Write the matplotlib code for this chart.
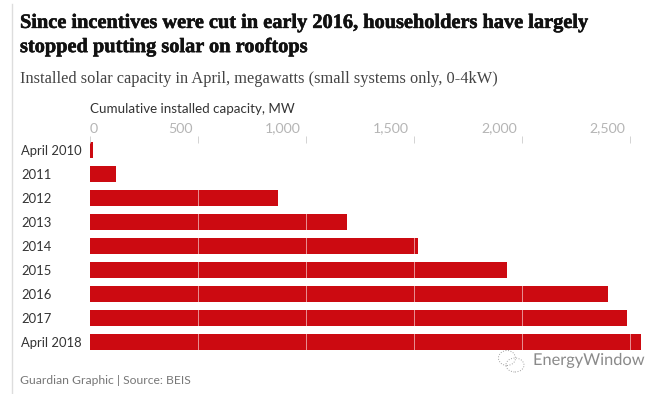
import matplotlib
matplotlib.use('Agg')
import matplotlib.pyplot as plt
import matplotlib.patheffects as pe
from matplotlib.lines import Line2D
from matplotlib.patches import Ellipse
from matplotlib.transforms import Bbox, ScaledTranslation

years = ['April 2010', '2011', '2012', '2013', '2014', '2015', '2016', '2017', 'April 2018']
capacity = [14, 120, 870, 1188, 1517, 1930, 2398, 2484, 2550]
ticks = [0, 500, 1000, 1500, 2000, 2500]
tick_labels = ['0', '500', '1,000', '1,500', '2,000', '2,500']

W, H = 650, 394

fig = plt.figure(figsize=(W/100, H/100), dpi=100)
ax = fig.add_axes([90/W, 1-354/H, 551/W, (354-136)/H])

ax.barh(range(len(years)), capacity, height=0.667, color='#cc0a11')

ax.set_xlim(0, 2551)
ax.set_ylim(8.5, -0.583)
ax.set_yticks(range(len(years)))
ax.set_yticklabels(years, fontsize=9.4, color='#333333', family='Lato', ha='left')
ax.tick_params(axis='y', length=0, pad=49.7)

ax.xaxis.tick_top()
ax.set_xticks(ticks)
ax.set_xticklabels(tick_labels, fontsize=10.2, color='#b5b5b5', family='Lato')
ax.tick_params(axis='x', direction='in', length=5, width=0.6, color='#cccccc', pad=1)
ax.set_axisbelow(False)
ax.grid(axis='x', color='white', lw=0.7, alpha=0.55)
for s in ax.spines.values():
    s.set_visible(False)

#tick labels sit left of their tick, 0 starts at it, 2,500 is cut at the right edge
clip = Bbox.from_extents(0, 0, 641, H)
for i, tick in enumerate(ax.xaxis.get_major_ticks()):
    lab = tick.label2
    if i > 0:
        lab.set_ha('right')
        lab.set_transform(lab.get_transform() + ScaledTranslation(-5/100, 0, fig.dpi_scale_trans))
    else:
        lab.set_ha('left')
        tick.gridline.set_visible(False)
    lab.set_clip_box(clip)
    lab.set_clip_on(True)

fig.add_artist(Line2D([11.5/W, 11.5/W], [0, 1-4/H], color='#dddddd', lw=1))

title = fig.text(20/W, 1-35/H, 'Since incentives were cut in early 2016, householders have largely\nstopped putting solar on rooftops',
         fontsize=14.65, fontweight='bold', family='Liberation Serif', va='center', color='#111111', linespacing=1.28)
title.set_path_effects([pe.withStroke(linewidth=0.4, foreground='#111111')])
fig.text(20/W, 1-79/H, 'Installed solar capacity in April, megawatts (small systems only, 0-4kW)',
         fontsize=11.8, family='Liberation Serif', va='center', color='#444444')
fig.text(90/W, 1-109/H, 'Cumulative installed capacity, MW', fontsize=9.6, family='Lato', va='center', color='#333333')
fig.text(20/W, 1-380/H, 'Guardian Graphic | Source: BEIS', fontsize=8.7, family='Lato', va='center', color='#777777')

#watermark
wm = fig.text(533/W, 1-361/H, 'EnergyWindow', fontsize=11.8, family='Lato', va='center', color='#8a8a8a')
wm.set_path_effects([pe.withStroke(linewidth=1.2, foreground='#ffffff')])
for cx, cy, w, h in [(507, 358, 17, 15), (515, 365, 18, 14)]:
    fig.add_artist(Ellipse((cx/W, 1-cy/H), w/W, h/H, transform=fig.transFigure, fill=False, ec='#a0a0a0', lw=0.7, ls=':'))

plt.savefig('out.png', dpi=100)
